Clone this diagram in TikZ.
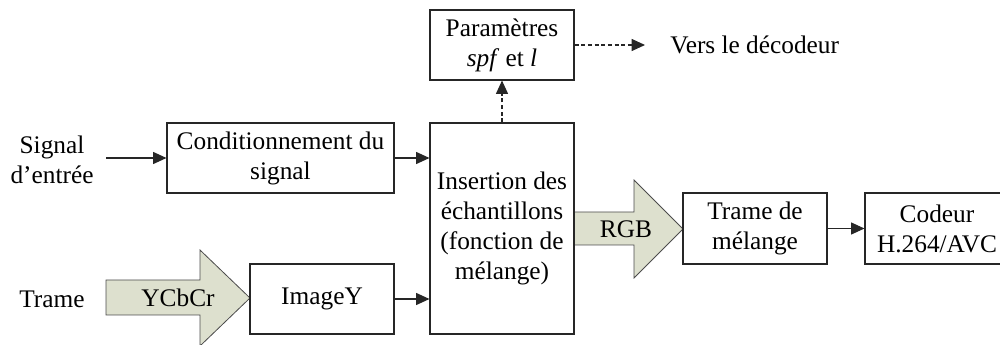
\documentclass[tikz,border=0pt]{standalone}
\usepackage{fontspec}
\setmainfont{Liberation Serif}
\usetikzlibrary{arrows.meta}
\definecolor{arrowfill}{HTML}{DDE0CE}
\tikzset{
  blk/.style={draw=black!85, line width=0.8pt, fill=white, align=center, inner sep=0pt,
    font=\fontsize{19}{22.5}\selectfont},
  lbl/.style={align=center, inner sep=0pt, font=\fontsize{19}{22.5}\selectfont},
  conn/.style={line width=0.8pt, draw=black!85, -{Triangle[length=10pt,width=9pt]}},
  dconn/.style={conn, dash pattern=on 3pt off 2pt},
  bigarrow/.style={draw=black!70, line width=0.6pt, fill=arrowfill}
}
\begin{document}
\begin{tikzpicture}[x=0.75pt,y=-0.75pt]
\useasboundingbox (0,0) rectangle (1000,345);
\clip (0,0) rectangle (1000,345);
% big arrows
\draw[bigarrow] (106,280) -- (200,280) -- (200,250) -- (250,298) -- (200,346) -- (200,315) -- (106,315) -- cycle;
\node[lbl] (ycbcr) at (178,298) {YCbCr};
\draw[bigarrow] (574,212) -- (634,212) -- (634,180) -- (683,229) -- (634,278) -- (634,245) -- (574,245) -- cycle;
\node[lbl] (rgb) at (626,229) {RGB};
% boxes
\node[blk, minimum width=144*0.75pt, minimum height=70*0.75pt] (param) at (502,45) {Paramètres\\\textit{spf} et \textit{l}};
\node[blk, minimum width=227*0.75pt, minimum height=70*0.75pt] (cond) at (280.5,158) {Conditionnement du\\signal};
\node[blk, minimum width=144*0.75pt, minimum height=211*0.75pt] (ins) at (502,228.5) {Insertion des\\échantillons\\(fonction de\\mélange)};
\node[blk, minimum width=144*0.75pt, minimum height=70*0.75pt] (img) at (322,299) {ImageY};
\node[blk, minimum width=144*0.75pt, minimum height=71*0.75pt] (trame) at (755,228.5) {Trame de\\mélange};
\node[blk, minimum width=235*0.75pt, minimum height=71*0.75pt] (codeur) at (982.5,228.5) {};
\node[lbl] (codeurtxt) at (937,228.5) {Codeur\\H.264/AVC};
% labels
\node[lbl] (signal) at (52,160) {Signal\\d’entrée};
\node[lbl] (trlab) at (52,299) {Trame};
\node[lbl, anchor=west] (vers) at (670,45) {Vers le décodeur};
\coordinate (sigin) at (106,158);
\coordinate (versend) at (645,45);
% connectors
\draw[conn] (sigin) -- (cond.west);
\draw[conn] (cond.east) -- (cond.east -| ins.west);
\draw[conn] (img.east) -- (img.east -| ins.west);
\draw[conn] (trame.east) -- (trame.east -| codeur.west);
\draw[dconn] (ins.north) -- (param.south);
\draw[dconn] (param.east) -- (versend);
\end{tikzpicture}
\end{document}
